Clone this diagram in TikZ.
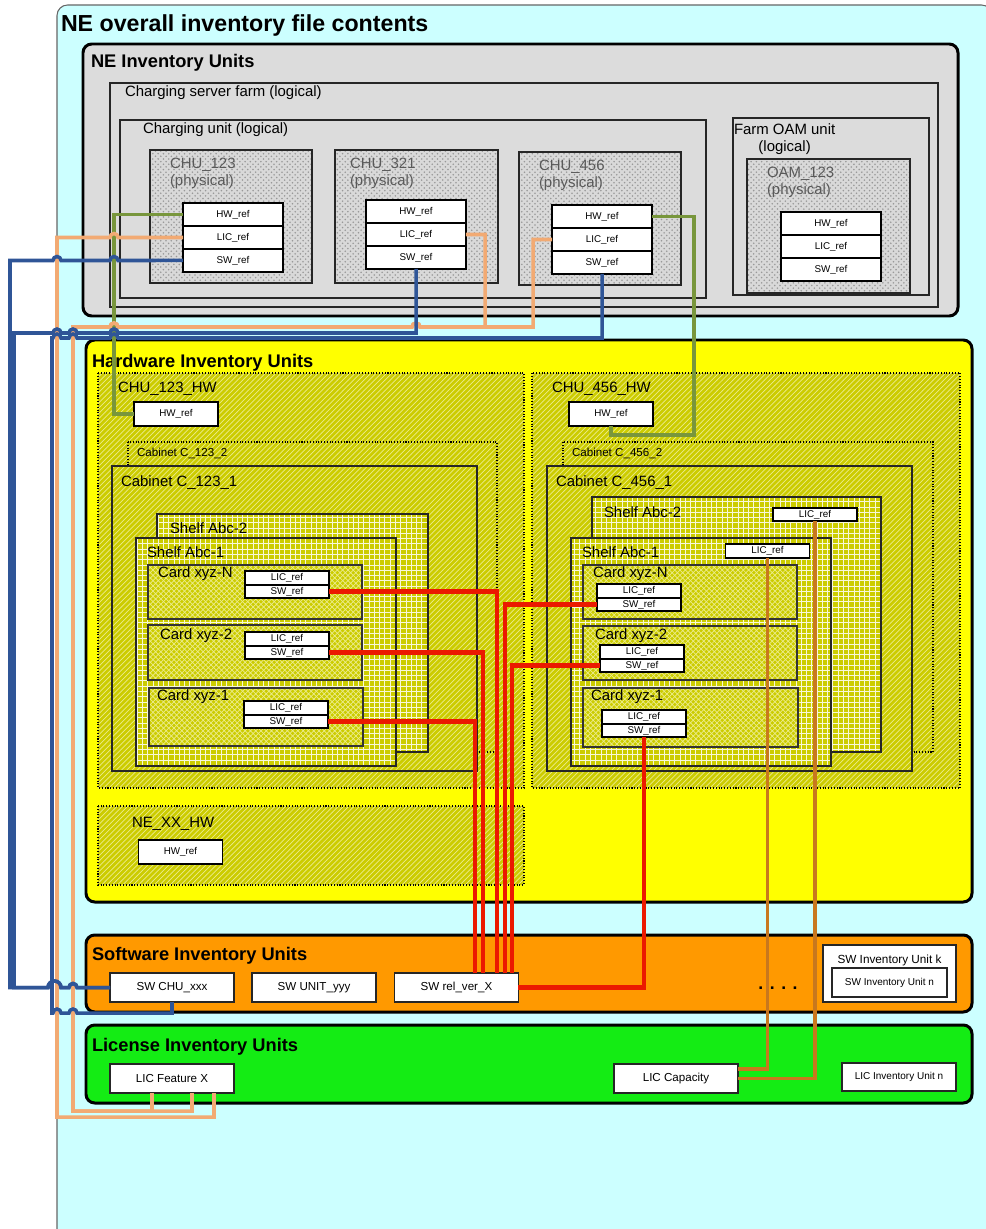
\documentclass[tikz,border=0pt]{standalone}
\usepackage{fontspec}
\setmainfont{Liberation Sans}
\usetikzlibrary{calc, patterns, positioning}

\definecolor{bgcyan}{RGB}{204,255,255}
\definecolor{negray}{RGB}{220,220,220}
\definecolor{hwyellow}{RGB}{255,255,0}
\definecolor{hwolive}{RGB}{204,204,0}
\definecolor{hwhatch}{RGB}{236,236,140}
\definecolor{sworange}{RGB}{255,153,0}
\definecolor{licgreen}{RGB}{20,236,20}
\definecolor{lnkblue}{RGB}{47,85,151}
\definecolor{lnkorange}{RGB}{242,170,115}
\definecolor{lnkgreen}{RGB}{120,150,60}
\definecolor{lnkred}{RGB}{235,25,0}
\definecolor{lnkbrown}{RGB}{200,120,30}

% line jumps
\newcommand{\hopl}{arc[start angle=0, end angle=-180, radius=4]}
\newcommand{\hopr}{arc[start angle=180, end angle=360, radius=4]}
\newcommand{\hopwide}{arc[start angle=180, end angle=360, radius=6.5]}

\begin{document}
\begin{tikzpicture}[x=0.02cm, y=-0.02cm,
  every node/.style={inner sep=0pt, outer sep=0pt},
  lbl/.style={anchor=base west, font=\fontsize{8.5}{10}\selectfont},
  slbl/.style={anchor=base west, font=\fontsize{6.6}{8}\selectfont},
  plbl/.style={anchor=north west, align=left, font=\fontsize{8.5}{9.6}\selectfont, text=black!65},
  ttl/.style={anchor=base west, font=\fontsize{10.4}{12}\selectfont\bfseries},
  unitbox/.style={draw=black, line width=1.7pt, rounded corners=5pt},
  logbox/.style={draw=black!85, line width=0.6pt, fill=negray},
  physbox/.style={draw=black!85, line width=1.1pt, preaction={fill=gray!30},
    preaction={pattern=crosshatch dots, pattern color=gray!80}},
  hwunit/.style={draw=black, densely dotted, line width=0.6pt, preaction={fill=hwolive},
    preaction={pattern=north east lines, pattern color=hwhatch}},
  cabbox/.style={draw=black!85, line width=1.1pt, preaction={fill=hwolive},
    preaction={pattern=north east lines, pattern color=hwhatch}},
  shelfbox/.style={draw=black!85, line width=1.1pt, preaction={fill=hwolive},
    preaction={pattern=grid, pattern color=white!85!hwolive}},
  cardbox/.style={draw=black!80, line width=0.9pt, preaction={fill=hwolive},
    preaction={pattern=crosshatch, pattern color=hwhatch}},
  refcell/.style={draw=black, line width=1pt, fill=white, minimum width=2cm,
    minimum height=0.46cm, font=\fontsize{5.6}{6}\selectfont},
  cardref/.style={draw=black, line width=0.9pt, fill=white, minimum width=1.68cm,
    minimum height=0.27cm, font=\fontsize{5.6}{6}\selectfont},
  hwref/.style={draw=black, line width=1.1pt, fill=white, minimum width=1.68cm,
    minimum height=0.48cm, font=\fontsize{5.6}{6}\selectfont},
  invcell/.style={draw=black!85, line width=1.1pt, fill=white, minimum width=2.48cm,
    minimum height=0.58cm, font=\fontsize{6.6}{8}\selectfont},
  dotrow/.style={font=\fontsize{10}{10}\selectfont\bfseries},
  swlink/.style={draw=lnkblue, line width=2pt},
  liclink/.style={draw=lnkorange, line width=2pt},
  hwlink/.style={draw=lnkgreen, line width=2pt},
  cardlink/.style={draw=lnkred, line width=2.3pt},
  shelflink/.style={draw=lnkbrown, line width=2pt}]
  \useasboundingbox (0,0) rectangle (985,1229);
  % file contents
  \draw[fill=bgcyan, draw=black!60, line width=0.6pt, rounded corners=6pt] (57,5) rectangle (992,1240);
  \node[anchor=base west, font=\fontsize{13.2}{15}\selectfont\bfseries] (maintitle) at (61,32) {NE overall inventory file contents};

  % NE inventory units
  \draw[unitbox, fill=negray] (83,44) rectangle (958,316);
  \node[ttl] (netitle) at (91,68) {NE Inventory Units};
  \draw[logbox] (110,83) rectangle (938,307);
  \node[lbl] (farmlbl) at (125,97) {Charging server farm (logical)};
  \draw[logbox] (120,120) rectangle (706,298);
  \node[lbl] (unitlbl) at (143,134) {Charging unit (logical)};
  \draw[logbox] (733,118) rectangle (929,295);
  \node[plbl, align=center, text=black] (oamlbl) at (734,124) {Farm OAM unit\\(logical)};
  % physical units
  \draw[physbox] (150,150) rectangle (312,283);
  \node[plbl] (chu1lbl) at (170,158) {CHU\_123\\(physical)};
  \node[refcell] (c1hw) at (233,214.5) {HW\_ref};
  \node[refcell, below=0pt of c1hw] (c1lic) {LIC\_ref};
  \node[refcell, below=0pt of c1lic] (c1sw) {SW\_ref};
  \draw[physbox] (335,150) rectangle (498,283);
  \node[plbl] (chu2lbl) at (350,158) {CHU\_321\\(physical)};
  \node[refcell] (c2hw) at (416,211.5) {HW\_ref};
  \node[refcell, below=0pt of c2hw] (c2lic) {LIC\_ref};
  \node[refcell, below=0pt of c2lic] (c2sw) {SW\_ref};
  \draw[physbox] (519,152) rectangle (681,285);
  \node[plbl] (chu3lbl) at (539,160) {CHU\_456\\(physical)};
  \node[refcell] (c3hw) at (602,216.5) {HW\_ref};
  \node[refcell, below=0pt of c3hw] (c3lic) {LIC\_ref};
  \node[refcell, below=0pt of c3lic] (c3sw) {SW\_ref};
  \draw[physbox] (747,159) rectangle (910,293);
  \node[plbl] (oam1lbl) at (767,167) {OAM\_123\\(physical)};
  \node[refcell] (o1hw) at (831,223.5) {HW\_ref};
  \node[refcell, below=0pt of o1hw] (o1lic) {LIC\_ref};
  \node[refcell, below=0pt of o1lic] (o1sw) {SW\_ref};

  % hardware inventory units
  \draw[unitbox, fill=hwyellow] (86,340) rectangle (972,902);
  \node[ttl] (hwtitle) at (92,368) {Hardware Inventory Units};
  % CHU_123 hardware
  \draw[hwunit] (98,373) rectangle (524,788);
  \node[lbl] (hw1lbl) at (118,393) {CHU\_123\_HW};
  \node[hwref] (hw1) at (176,414) {HW\_ref};
  \draw[hwunit] (128,442) rectangle (497,752);
  \node[slbl] (cab12lbl) at (137,456) {Cabinet C\_123\_2};
  \draw[cabbox] (112,466) rectangle (477,771);
  \node[lbl] (cab11lbl) at (121,486) {Cabinet C\_123\_1};
  \draw[shelfbox] (157,514) rectangle (428,752);
  \node[lbl] (sh12lbl) at (170,533) {Shelf Abc-2};
  \draw[shelfbox] (136,538) rectangle (396,766);
  \node[lbl] (sh11lbl) at (147,557) {Shelf Abc-1};
  \draw[cardbox] (148,565) rectangle (362,619);
  \node[lbl] (lnlbl) at (158,577) {Card xyz-N};
  \node[cardref] (lnlic) at (287,578) {LIC\_ref};
  \node[cardref, below=0pt of lnlic] (lnsw) {SW\_ref};
  \draw[cardbox] (148,625) rectangle (362,680);
  \node[lbl] (l2lbl) at (160,639) {Card xyz-2};
  \node[cardref] (l2lic) at (287,639) {LIC\_ref};
  \node[cardref, below=0pt of l2lic] (l2sw) {SW\_ref};
  \draw[cardbox] (149,688) rectangle (363,746);
  \node[lbl] (l1lbl) at (157,700) {Card xyz-1};
  \node[cardref] (l1lic) at (286,708) {LIC\_ref};
  \node[cardref, below=0pt of l1lic] (l1sw) {SW\_ref};
  % CHU_456 hardware
  \draw[hwunit] (532,373) rectangle (960,788);
  \node[lbl] (hw2lbl) at (552,393) {CHU\_456\_HW};
  \node[hwref] (hw2) at (611,414) {HW\_ref};
  \draw[hwunit] (563,442) rectangle (933,752);
  \node[slbl] (cab22lbl) at (572,456) {Cabinet C\_456\_2};
  \draw[cabbox] (547,466) rectangle (912,771);
  \node[lbl] (cab21lbl) at (556,486) {Cabinet C\_456\_1};
  \draw[shelfbox] (592,497) rectangle (881,752);
  \node[lbl] (sh22lbl) at (604,517) {Shelf Abc-2};
  \node[cardref] (s2lic) at (815,514.5) {LIC\_ref};
  \draw[shelfbox] (571,538) rectangle (831,766);
  \node[lbl] (sh21lbl) at (582,557) {Shelf Abc-1};
  \node[cardref] (s1lic) at (767.5,551) {LIC\_ref};
  \draw[cardbox] (583,565) rectangle (797,619);
  \node[lbl] (rnlbl) at (593,577) {Card xyz-N};
  \node[cardref] (rnlic) at (639,591) {LIC\_ref};
  \node[cardref, below=0pt of rnlic] (rnsw) {SW\_ref};
  \draw[cardbox] (583,626) rectangle (797,680);
  \node[lbl] (r2lbl) at (595,639) {Card xyz-2};
  \node[cardref] (r2lic) at (642,652) {LIC\_ref};
  \node[cardref, below=0pt of r2lic] (r2sw) {SW\_ref};
  \draw[cardbox] (583,688) rectangle (798,747);
  \node[lbl] (r1lbl) at (591,700) {Card xyz-1};
  \node[cardref] (r1lic) at (644,717) {LIC\_ref};
  \node[cardref, below=0pt of r1lic] (r1sw) {SW\_ref};
  % NE_XX hardware
  \draw[hwunit] (98,806) rectangle (524,885);
  \node[lbl] (hw3lbl) at (132,827) {NE\_XX\_HW};
  \node[hwref] (hw3) at (180.5,852) {HW\_ref};

  % software inventory units
  \draw[unitbox, fill=sworange] (86,935) rectangle (972,1012);
  \node[ttl] (swtitle) at (92,960) {Software Inventory Units};
  \node[invcell] (swchu) at (172,987.5) {SW CHU\_xxx};
  \node[invcell] (swunit) at (314,987.5) {SW UNIT\_yyy};
  \node[invcell] (swrel) at (456.5,987.5) {SW rel\_ver\_X};
  \node[dotrow] (swdots) at (778,988) {. . . .};
  \draw[draw=black!85, line width=1.1pt, fill=white] (823,945) rectangle (956,1002);
  \node[anchor=base, font=\fontsize{6.7}{8}\selectfont] (swk) at (889.5,963) {SW Inventory Unit k};
  \node[invcell, minimum width=2.3cm, line width=1.4pt, font=\fontsize{5.7}{7}\selectfont] (swn) at (889.5,982.5) {SW Inventory Unit n};

  % license inventory units
  \draw[unitbox, fill=licgreen] (86,1025) rectangle (972,1103);
  \node[ttl] (lictitle) at (92,1051) {License Inventory Units};
  \node[invcell] (licfx) at (172,1078.5) {LIC Feature X};
  \node[invcell] (liccap) at (676,1078.5) {LIC Capacity};
  \node[dotrow] (licdots) at (782,1079) {. . . .};
  \node[invcell, minimum width=2.28cm, minimum height=0.56cm, font=\fontsize{5.7}{7}\selectfont] (licn) at (899,1077) {LIC Inventory Unit n};

  % hardware references
  \draw[hwlink] (c1hw.west) -- ++(-69,0) |- (hw1.west);
  \draw[hwlink] (c3hw.east) -| (694,435) -| (hw2.south);
  % license references
  \draw[liclink] (c1lic.west) -- (118,237.5) \hopl -- (57,237.5) -- (57,1117) -| ($(licfx.south)+(42,0)$);
  \draw[liclink] (c2lic.east) -| (485,327) -- (420,327) \hopl -- (118,327) \hopl -- (73,327) -- (73,1111) -| ($(licfx.south)+(-20,0)$);
  \draw[liclink] (c3lic.west) -| (533,327) -- (420,327) \hopl -- (118,327) \hopl -- (73,327) -- (73,1111) -| ($(licfx.south)+(20,0)$);
  % software references
  \draw[swlink] (c1sw.west) -- (118,260.5) \hopl -- (61,260.5) \hopl -- (10,260.5) -- (10,987.5) -- (48,987.5) \hopwide -- (69,987.5) \hopr -- (swchu.west);
  \draw[swlink] (c2sw.south) -- (416,333) -- (118,333) \hopl -- (77,333) \hopl -- (61,333) \hopl -- (14,333) -- (14,987.5) -- (48,987.5) \hopwide -- (69,987.5) \hopr -- (swchu.west);
  \draw[swlink] (c3sw.south) -- (602,338) -- (118,338) \hopl -- (77,338) \hopl -- (61,338) \hopl -- (52,338) -- (52,1013) -- (53,1013) \hopr -- (69,1013) \hopr -- (172,1013) -- (swchu.south);
  % card software
  \draw[cardlink] (lnsw.east) -| ($(swrel.north)+(40.5,0)$);
  \draw[cardlink] (l2sw.east) -| ($(swrel.north)+(26.5,0)$);
  \draw[cardlink] (l1sw.east) -| ($(swrel.north)+(18.5,0)$);
  \draw[cardlink] (rnsw.west) -| ($(swrel.north)+(48.5,0)$);
  \draw[cardlink] (r2sw.west) -| ($(swrel.north)+(55.5,0)$);
  \draw[cardlink] (r1sw.south) |- (swrel.east);
  % shelf licences
  \draw[shelflink] (s1lic.south) |- ($(liccap.east)+(0,-9.5)$);
  \draw[shelflink] (s2lic.south) |- (liccap.east);
\end{tikzpicture}
\end{document}
